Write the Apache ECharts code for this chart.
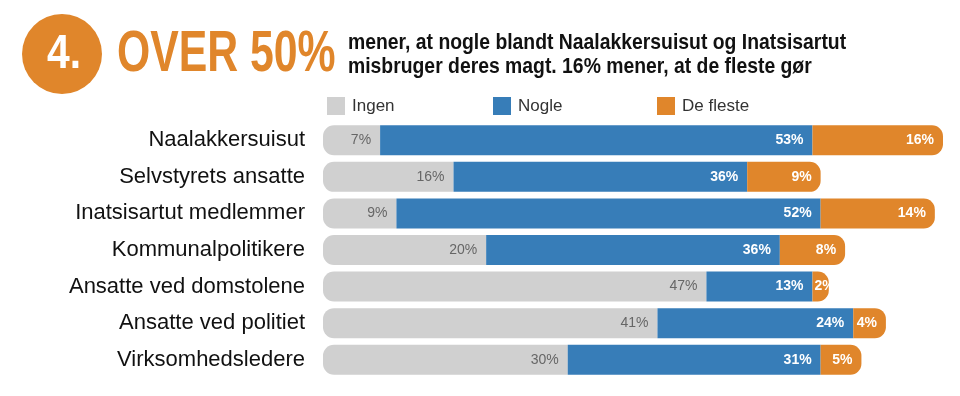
<!DOCTYPE html>
<html>
<head>
<meta charset="utf-8">
<script src="https://cdn.jsdelivr.net/npm/echarts@6/dist/echarts.min.js"></script>
<style>
  html, body { margin: 0; padding: 0; background: #fff; }
  #chart { width: 960px; height: 396px; }
</style>
</head>
<body>
<div id="chart"></div>
<script>
  // data
  var categories = ['Naalakkersuisut', 'Selvstyrets ansatte', 'Inatsisartut medlemmer',
    'Kommunalpolitikere', 'Ansatte ved domstolene', 'Ansatte ved politiet', 'Virksomhedsledere'];
  var ingen = [7, 16, 9, 20, 47, 41, 30];
  var nogle = [53, 36, 52, 36, 13, 24, 31];
  var fleste = [16, 9, 14, 8, 2, 4, 5];

  var GRAY = '#d0d0d0', BLUE = '#377db8', ORANGE = '#e0862b';
  var FONT = '"Liberation Sans", Arial, sans-serif';

  var chart = echarts.init(document.getElementById('chart'));

  function legendAt(name, left) {
    return {
      left: left, top: 92,
      data: [name],
      icon: 'rect',
      itemWidth: 18, itemHeight: 18,
      selectedMode: false,
      textStyle: { fontFamily: FONT, fontSize: 17, color: '#333', padding: [0, 0, 0, 2] }
    };
  }

  function seg(name, data, color, radius, labelColor, weight) {
    return {
      name: name,
      type: 'bar',
      stack: 'all',
      barWidth: 30,
      // very thin segments: label starts at the segment and is cut by the white background
      data: data.map(function (v) {
        return v < 3 ? { value: v, label: { position: 'insideLeft', distance: 2 } } : v;
      }),
      itemStyle: { color: color, borderRadius: radius },
      label: {
        show: true,
        position: 'insideRight',
        distance: 9,
        formatter: '{c}%',
        fontFamily: FONT,
        fontSize: 14,
        fontWeight: weight,
        color: labelColor
      }
    };
  }

  chart.setOption({
    animation: false,
    legend: [legendAt('Ingen', 322), legendAt('Nogle', 488), legendAt('De fleste', 652)],
    grid: { left: 323, width: 620, top: 122, height: 256 },
    xAxis: { type: 'value', min: 0, max: 76, show: false },
    yAxis: {
      type: 'category',
      data: categories,
      inverse: true,
      axisLine: { show: false },
      axisTick: { show: false },
      axisLabel: { fontFamily: FONT, fontSize: 22, color: '#111', margin: 18 }
    },
    graphic: [
      { type: 'circle', shape: { cx: 62, cy: 54, r: 40 }, style: { fill: ORANGE } },
      { type: 'text', x: 64, y: 55, scaleX: 0.85,
        style: { text: '4.', fill: '#fff', font: 'bold 48px ' + FONT, align: 'center', verticalAlign: 'middle' } },
      { type: 'text', x: 117, y: 55, scaleX: 0.75,
        style: { text: 'OVER 50%', fill: ORANGE, font: 'bold 57px ' + FONT, align: 'left', verticalAlign: 'middle' } },
      { type: 'text', x: 348, y: 43, scaleX: 0.88,
        style: { text: 'mener, at nogle blandt Naalakkersuisut og Inatsisartut', fill: '#111', font: 'bold 22px ' + FONT, verticalAlign: 'middle' } },
      { type: 'text', x: 348, y: 67, scaleX: 0.88,
        style: { text: 'misbruger deres magt. 16% mener, at de fleste gør', fill: '#111', font: 'bold 22px ' + FONT, verticalAlign: 'middle' } }
    ],
    series: [
      seg('Ingen', ingen, GRAY, [11, 0, 0, 11], '#666', 'normal'),
      seg('Nogle', nogle, BLUE, 0, '#fff', 'bold'),
      seg('De fleste', fleste, ORANGE, [0, 11, 11, 0], '#fff', 'bold')
    ]
  });
</script>
</body>
</html>
